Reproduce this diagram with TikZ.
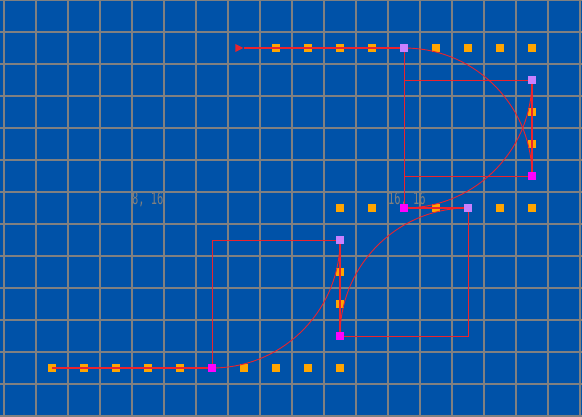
\documentclass[tikz,border=0pt]{standalone}
\usepackage{fontspec}
\setmonofont{DejaVu Sans Mono}
\usepackage{tikz}
\usetikzlibrary{arrows.meta, shapes.geometric}
\definecolor{bgblue}{RGB}{0,82,168}
\definecolor{gridgray}{RGB}{128,128,128}
\definecolor{pathred}{RGB}{235,35,45}
\definecolor{markorange}{RGB}{255,165,0}
\definecolor{markviolet}{RGB}{200,128,255}
\definecolor{markmagenta}{RGB}{255,0,255}

\begin{document}
\begin{tikzpicture}[
		x=32pt, y=-32pt,
		grid/.style = {draw=gridgray, line width=1.6pt},
		segment/.style = {draw=pathred, line width=2pt},
		guide/.style = {draw=pathred, line width=0.9pt},
		marker/.style = {rectangle, inner sep=0pt, minimum size=8pt},
		plain/.style = {marker, fill=markorange},
		first/.style = {marker, fill=markmagenta},
		last/.style = {marker, fill=markviolet},
		starttip/.style = {isosceles triangle, isosceles triangle stretches, fill=pathred, inner sep=0pt, minimum width=8pt, minimum height=8pt, anchor=apex},
		coordlabel/.style = {text=gridgray, font=\ttfamily\fontsize{16.5}{18}\selectfont, xscale=0.63, inner sep=0pt, anchor=base west}
		]
		
		\fill[bgblue] (-0.125,0) rectangle (18.0625,13.03125);
		\useasboundingbox (-0.125,0) rectangle (18.0625,13.03125);
		
		\foreach \i in {0,...,18} \draw[grid] (\i,0) -- (\i,13.03125);
		\foreach \j in {0,...,13} \draw[grid] (-0.125,\j) -- (18.0625,\j);
		
		\node[coordlabel] (labelA) at (4,6.4) {8, 16};
		\node[coordlabel] (labelB) at (12,6.4) {16, 16};
		
		\foreach \u in {1,2,3,4,5,7,8,9,10} \node[plain] (bot\u) at (\u+0.5,11.5) {};
		\foreach \v in {8,9} \node[plain] (lft\v) at (10.5,\v+0.5) {};
		\foreach \u in {10,11,13,15,16} \node[plain] (mid\u) at (\u+0.5,6.5) {};
		\foreach \v in {3,4} \node[plain] (rgt\v) at (16.5,\v+0.5) {};
		\foreach \u in {8,9,10,11,13,14,15,16} \node[plain] (top\u) at (\u+0.5,1.5) {};
		
		\coordinate (p1) at (6.5,11.5);
		\coordinate (c1) at (6.5,7.5);
		\coordinate (q1) at (10.5,7.5);
		\coordinate (p2) at (10.5,10.5);
		\coordinate (c2) at (14.5,10.5);
		\coordinate (q2) at (14.5,6.5);
		\coordinate (p3) at (12.5,6.5);
		\coordinate (c3) at (12.5,2.5);
		\coordinate (q3) at (16.5,2.5);
		\coordinate (p4) at (16.5,5.5);
		\coordinate (c4) at (12.5,5.5);
		\coordinate (q4) at (12.5,1.5);
		
		\node[starttip] (tip) at (7.5,1.5) {};
		
		\draw[guide] (q4) -- (c4) -- (p4);
		\draw[guide] (p3) -- (c3) -- (q3);
		\draw[guide] (p2) -- (c2) -- (q2);
		\draw[guide] (p1) -- (c1) -- (q1);
		
		\draw[guide] (q4) arc[start angle=-90, end angle=0, radius=4];
		\draw[guide] (q3) arc[start angle=0, end angle=90, radius=4];
		\draw[guide] (q2) arc[start angle=270, end angle=180, radius=4];
		\draw[guide] (q1) arc[start angle=0, end angle=90, radius=4];
		
		\draw[segment] (tip.apex) -- (q4);
		\draw[segment] (p4) -- (q3);
		\draw[segment] (p3) -- (q2);
		\draw[segment] (p2) -- (q1);
		\draw[segment] (p1) -- (bot1.center);
		
		\node[first] (start1) at (p1) {};
		\node[first] (start2) at (p2) {};
		\node[first] (start3) at (p3) {};
		\node[first] (start4) at (p4) {};
		\node[last] (end1) at (q1) {};
		\node[last] (end2) at (q2) {};
		\node[last] (end3) at (q3) {};
		\node[last] (end4) at (q4) {};
	\end{tikzpicture}
\end{document}
